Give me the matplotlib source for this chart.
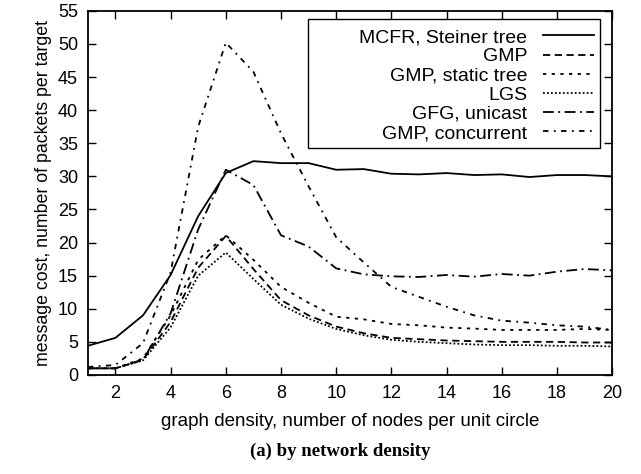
import matplotlib
matplotlib.use("Agg")
import matplotlib.pyplot as plt
from matplotlib.patches import Rectangle

plt.rcParams['font.family'] = ['Liberation Sans', 'DejaVu Sans']

x = list(range(1, 21))
mcfr = [4.4, 5.6, 9.0, 15.1, 24.0, 30.5, 32.3, 32.0, 32.0, 31.0, 31.1, 30.4, 30.3, 30.5, 30.2, 30.3, 29.9, 30.2, 30.2, 30.0]
gmp = [1.0, 1.0, 2.3, 8.0, 16.2, 21.0, 16.0, 11.3, 9.0, 7.3, 6.3, 5.6, 5.4, 5.2, 5.1, 5.0, 5.0, 5.0, 4.9, 4.9]
gmp_static = [1.0, 1.0, 2.5, 9.0, 17.4, 21.1, 17.4, 13.3, 10.9, 8.8, 8.4, 7.7, 7.5, 7.15, 7.0, 6.8, 6.8, 6.8, 6.95, 6.8]
lgs = [1.0, 1.0, 2.2, 7.2, 15.0, 18.5, 14.5, 10.6, 8.5, 6.95, 6.0, 5.3, 5.0, 4.8, 4.6, 4.5, 4.5, 4.4, 4.4, 4.3]
gfg = [1.0, 1.0, 2.3, 9.3, 22.0, 31.0, 28.7, 21.1, 19.4, 16.1, 15.2, 14.9, 14.8, 15.1, 14.85, 15.25, 15.0, 15.6, 16.0, 15.8]
concurrent = [1.2, 1.5, 4.8, 15.5, 37.5, 50.2, 45.8, 36.5, 28.5, 20.8, 17.0, 13.3, 11.8, 10.3, 9.0, 8.2, 7.9, 7.5, 7.3, 6.8]

labels = ["MCFR, Steiner tree", "GMP", "GMP, static tree", "LGS", "GFG, unicast", "GMP, concurrent"]
series = [mcfr, gmp, gmp_static, lgs, gfg, concurrent]
styles = ['-', (0, (4, 2.5)), (0, (1.8, 3)), (0, (1, 1.2)), (0, (6, 2.5, 1, 2.5)), (0, (3, 3, 1, 3))]

xticks = [2, 4, 6, 8, 10, 12, 14, 16, 18, 20]
yticks = [0, 5, 10, 15, 20, 25, 30, 35, 40, 45, 50, 55]

fig = plt.figure(figsize=(6.41, 4.74), dpi=100)
ax = fig.add_axes([0.137, 0.209, 0.818, 0.768])
for s, lab, ls in zip(series, labels, styles):
    ax.plot(x, s, color='black', linestyle=ls, linewidth=1.3, label=lab)

ax.set_xlim(1, 20)
ax.set_ylim(0, 55)
ax.set_xticks(xticks)
ax.set_yticks(yticks)
ax.tick_params(direction='in', top=True, right=True, length=6, width=1, labelsize=13, pad=7)
for sp in ax.spines.values():
    sp.set_linewidth(1.3)
ax.set_xlabel("graph density, number of nodes per unit circle", fontsize=13.5, labelpad=8)
ax.set_ylabel("message cost, number of packets per target", fontsize=12.8, labelpad=4)

# gnuplot-style key box (wider than its contents)
ax.add_patch(Rectangle((0.42, 0.624), 0.557, 0.354, transform=ax.transAxes, fill=True,
                       facecolor='white', edgecolor='black', linewidth=1.0, zorder=4))
leg = ax.legend(loc='upper right', bbox_to_anchor=(0.972, 0.962), markerfirst=False, fontsize=14,
                frameon=False, handlelength=2.6,
                labelspacing=0.08, borderpad=0.2, handletextpad=0.8, borderaxespad=0)
leg.set_zorder(5)
for t in leg.get_texts():
    t.set_ha('right')
leg._legend_box.align = 'right'

fig.text(0.53, 0.048, "(a) by network density", ha='center', va='center', fontsize=13.5,
         fontweight='bold', family=['Liberation Serif', 'DejaVu Serif'])

fig.savefig("out.png", dpi=100)
